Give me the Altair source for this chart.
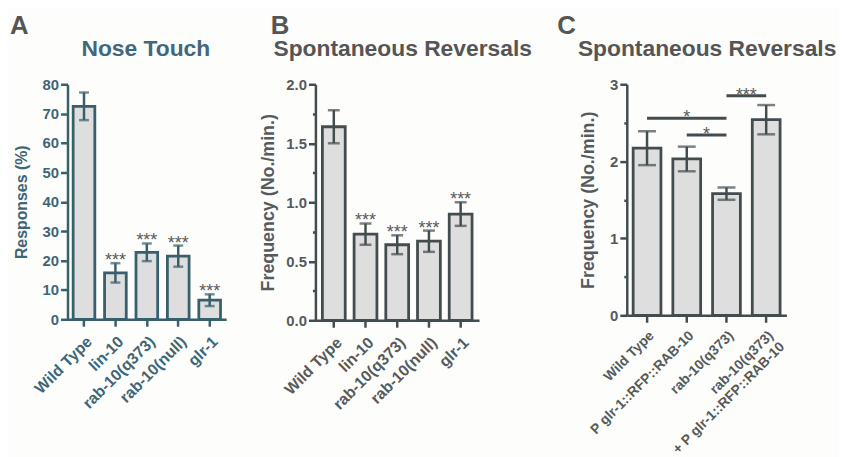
import altair as alt
import pandas as pd

FONT = "Liberation Sans"

# ---------------- data ----------------
a_cats = ["Wild Type", "lin-10", "rab-10(q373)", "rab-10(null)", "glr-1"]
a_vals = [72.5, 15.8, 22.8, 21.5, 6.5]
a_errs = [4.7, 3.3, 3.0, 3.6, 2.0]
a_sig = ["", "***", "***", "***", "***"]

b_cats = ["Wild Type", "lin-10", "rab-10(q373)", "rab-10(null)", "glr-1"]
b_vals = [1.64, 0.73, 0.64, 0.67, 0.90]
b_errs = [0.14, 0.09, 0.08, 0.09, 0.10]
b_sig = ["", "***", "***", "***", "***"]

c_cats = ["Wild Type", "P glr-1::RFP::RAB-10", "rab-10(q373)",
          "rab-10(q373)|+ P glr-1::RFP::RAB-10"]
c_vals = [2.17, 2.03, 1.58, 2.54]
c_errs = [0.22, 0.16, 0.08, 0.19]

c_line_from = ["Wild Type", "P glr-1::RFP::RAB-10", "rab-10(q373)"]
c_line_to = ["rab-10(q373)", "rab-10(q373)", "rab-10(q373)|+ P glr-1::RFP::RAB-10"]
c_line_y = [2.56, 2.34, 2.85]
c_star_cat = ["P glr-1::RFP::RAB-10", "P glr-1::RFP::RAB-10", "rab-10(q373)"]
c_star_text = ["*", "*", "***"]
c_star_shift = ["mid", "half", "half"]

titles = ["Nose Touch", "Spontaneous Reversals", "Spontaneous Reversals"]
letters = ["A", "B", "C"]


def frame(cats, vals, errs, sig=None):
    df = pd.DataFrame({"cat": cats, "val": vals, "err": errs})
    df["lo"] = df["val"] - df["err"]
    df["hi"] = df["val"] + df["err"]
    if sig is not None:
        df["sig"] = sig
    return df


def panel(df, cats, *, xrange, pin, pout, width, height, ydomain, yvalues,
          ylabel_expr, ytick_expr, ytitle, ytitle_size, col, txtcol,
          cap, letter, title, title_col, letter_x, title_x, ytitle_pad,
          xlabel_size=16, xlabel_pad=7, extra=None):
    xscale = alt.Scale(domain=cats, range=xrange, paddingInner=pin, paddingOuter=pout)
    xaxis = alt.Axis(title=None, labelAngle=-45, labelFont=FONT,
                     labelFontWeight="bold", labelFontSize=xlabel_size,
                     labelColor=txtcol, labelPadding=xlabel_pad,
                     labelExpr="split(datum.label, '|')",
                     labelLimit=400, labelOverlap=False,
                     labelLineHeight=xlabel_size + 2,
                     domainColor=col, domainWidth=2.5,
                     tickColor=col, tickWidth=2.5, tickSize=7)
    yscale = alt.Scale(domain=ydomain, nice=False, zero=True)
    yaxis = alt.Axis(title=ytitle, values=yvalues, labelExpr=ylabel_expr,
                     tickSize={"expr": ytick_expr} if ytick_expr else 7,
                     labelFont=FONT, labelFontWeight="bold",
                     labelFontSize=15, labelColor=txtcol, labelPadding=2,
                     labelOverlap=False,
                     titleFont=FONT, titleFontWeight="bold",
                     titleFontSize=ytitle_size, titleColor=txtcol,
                     titlePadding=ytitle_pad,
                     domainColor=col, domainWidth=2.5,
                     tickColor=col, tickWidth=2.5, grid=False)

    def X(field):
        return alt.X(f"{field}:N", scale=xscale, axis=xaxis)

    def Y(field):
        return alt.Y(f"{field}:Q", scale=yscale, axis=yaxis)

    base = alt.Chart(df)
    bars = base.mark_bar(fill="#dedede", stroke=col, strokeWidth=2.8).encode(
        x=X("cat"), y=Y("val"))
    err = base.mark_rule(color=col, strokeWidth=2.5).encode(
        x=X("cat"), y=Y("lo"), y2="hi:Q")
    cap_hi = base.mark_tick(color=col, thickness=2.5, size=cap).encode(
        x=X("cat"), y=Y("hi"))
    cap_lo = base.mark_tick(color=col, thickness=2.5, size=cap).encode(
        x=X("cat"), y=Y("lo"))
    layers = [bars, err, cap_hi, cap_lo]
    if "sig" in df.columns:
        stars = base.mark_text(font=FONT, fontSize=18, color="#5a5a5a",
                               baseline="alphabetic", dy=3).encode(
            x=X("cat"), y=Y("hi"), text="sig:N")
        layers.append(stars)
    if extra is not None:
        layers += extra(X, Y)
    lt = alt.Chart(pd.DataFrame({"t": [letter]})).mark_text(
        font=FONT, fontSize=26, fontWeight="bold", color="#555555",
        align="left", baseline="alphabetic").encode(
        x=alt.value(letter_x), y=alt.value(-51), text="t:N")
    tt = alt.Chart(pd.DataFrame({"t": [title]})).mark_text(
        font=FONT, fontSize=23, fontWeight="bold", color=title_col,
        align="center", baseline="alphabetic").encode(
        x=alt.value(title_x), y=alt.value(-28), text="t:N")
    layers += [lt, tt]
    return alt.layer(*layers).properties(width=width, height=height)


# Panel A
A_COL = "#37606c"
A_TXT = "#3f6676"
dfa = frame(a_cats, a_vals, a_errs, a_sig)
pa = panel(dfa, a_cats, xrange=[0, 160], pin=0.31, pout=0.18, width=165,
           height=237, ydomain=[0, 80], yvalues=list(range(0, 81, 10)),
           ylabel_expr="datum.label", ytick_expr=None,
           ytitle="Responses (%)", ytitle_size=16, col=A_COL, txtcol=A_TXT,
           cap=10, letter="A", title=titles[0], title_col="#41687a",
           letter_x=-58, title_x=79, ytitle_pad=13)

# Panel B
B_COL = "#434c4e"
B_TXT = "#555b5d"
dfb = frame(b_cats, b_vals, b_errs, b_sig)
pb = panel(dfb, b_cats, xrange=[0, 165], pin=0.28, pout=0.22, width=229,
           height=238, ydomain=[0, 2.0],
           yvalues=[0, 0.25, 0.5, 0.75, 1.0, 1.25, 1.5, 1.75, 2.0],
           ylabel_expr="datum.value % 0.5 == 0 ? format(datum.value, '.1f') : ''",
           ytick_expr="datum.value % 0.5 == 0 ? 7 : 3",
           ytitle="Frequency (No./min.)", ytitle_size=18, col=B_COL,
           txtcol=B_TXT, cap=12, letter="B", title=titles[1],
           title_col="#555555", letter_x=-45, title_x=88, ytitle_pad=8)

# Panel C
C_COL = "#434c4e"
C_TXT = "#555b5d"
dfc = frame(c_cats, c_vals, c_errs)
dfl = pd.DataFrame({"cat": c_line_from, "to": c_line_to, "y": c_line_y,
                    "scat": c_star_cat, "stext": c_star_text,
                    "shift": c_star_shift})


def c_extra(X, Y):
    lines = alt.Chart(dfl).mark_rule(color=C_COL, strokeWidth=3).encode(
        x=X("cat"), x2="to:N", y=Y("y"))
    star_mid = alt.Chart(dfl).transform_filter("datum.shift == 'mid'").mark_text(
        font=FONT, fontSize=18, color="#5a5a5a", baseline="alphabetic", dy=5).encode(
        x=X("scat"), y=Y("y"), text="stext:N")
    star_half = alt.Chart(dfl).transform_filter("datum.shift == 'half'").mark_text(
        font=FONT, fontSize=18, color="#5a5a5a", baseline="alphabetic", dy=5,
        dx=20).encode(x=X("scat"), y=Y("y"), text="stext:N")
    return [lines, star_mid, star_half]


pc = panel(dfc, c_cats, xrange=[0, 161], pin=0.30, pout=0.16, width=161,
           height=233, ydomain=[0, 3],
           yvalues=[0, 0.5, 1, 1.5, 2, 2.5, 3],
           ylabel_expr="datum.value % 1 == 0 ? format(datum.value, 'd') : ''",
           ytick_expr="datum.value % 1 == 0 ? 7 : 3",
           ytitle="Frequency (No./min.)", ytitle_size=18, col=C_COL,
           txtcol=C_TXT, cap=18, letter="C", title=titles[2],
           title_col="#555555", letter_x=-70, title_x=81, ytitle_pad=12,
           xlabel_size=14, xlabel_pad=6, extra=c_extra)

chart = alt.hconcat(pa, pb, pc, spacing=85, bounds="flush").properties(
    padding={"left": 2, "top": 3, "right": 2, "bottom": 2},
    background="#fdfdfc",
).configure_view(stroke=None)

chart.save("out.html", embed_options={"renderer": "svg", "actions": False})
